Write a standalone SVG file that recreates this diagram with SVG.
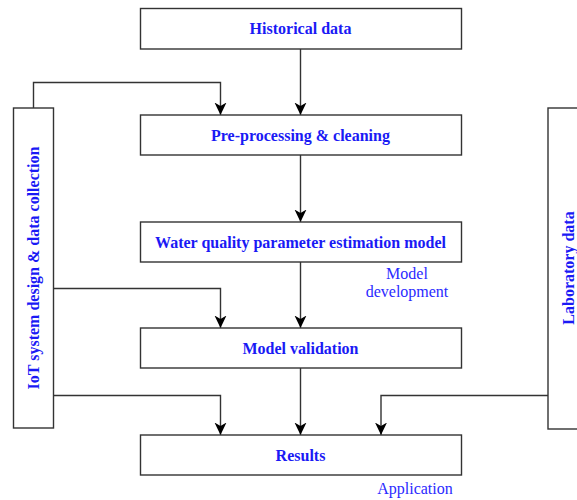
<svg xmlns="http://www.w3.org/2000/svg" width="577" height="500" viewBox="0 0 577 500">
<style>
.box{fill:#fff;stroke:#333;stroke-width:1.4}
.lbl{font-family:"Liberation Serif","Times New Roman",serif;font-weight:bold;font-size:16px;fill:#1a1af5;text-anchor:middle}
.note{font-family:"Liberation Serif","Times New Roman",serif;font-size:16px;fill:#2a2aff;text-anchor:middle}
.edge{fill:none;stroke:#333;stroke-width:1.4}
</style>
<defs>
<marker id="arr" viewBox="0 0 13 13" refX="12.5" refY="6.5" markerWidth="13" markerHeight="13" markerUnits="userSpaceOnUse" orient="auto">
<path d="M0,0.5 L12.5,6.5 L0,12.5 L3.5,6.5 Z" fill="#000"/>
</marker>
</defs>
<g id="connectors">
<path class="edge" d="M300.5,49 V115" marker-end="url(#arr)"/>
<path class="edge" d="M33.5,108 V82.5 H220.5 V115" marker-end="url(#arr)"/>
<path class="edge" d="M300.5,155 V222" marker-end="url(#arr)"/>
<path class="edge" d="M300.5,262 V328" marker-end="url(#arr)"/>
<path class="edge" d="M53.5,288.5 H220.5 V328" marker-end="url(#arr)"/>
<path class="edge" d="M300.5,368 V435" marker-end="url(#arr)"/>
<path class="edge" d="M53.5,395.5 H220.5 V435" marker-end="url(#arr)"/>
<path class="edge" d="M548,395.5 H381 V435" marker-end="url(#arr)"/>
</g>
<g id="historical">
<rect class="box" x="140.5" y="8.5" width="321" height="40.5"/>
<text class="lbl" x="300.5" y="34">Historical data</text>
</g>
<g id="preprocessing">
<rect class="box" x="140.5" y="115" width="321" height="40"/>
<text class="lbl" x="300.5" y="140.5">Pre-processing &amp; cleaning</text>
</g>
<g id="model">
<rect class="box" x="140.5" y="222" width="321" height="40"/>
<text class="lbl" x="300.5" y="247.5">Water quality parameter estimation model</text>
</g>
<g id="validation">
<rect class="box" x="140.5" y="328" width="321" height="40"/>
<text class="lbl" x="300.5" y="353.5">Model validation</text>
</g>
<g id="results">
<rect class="box" x="140.5" y="435" width="321" height="40"/>
<text class="lbl" x="300.5" y="460.5">Results</text>
</g>
<g id="iot">
<rect class="box" x="13.5" y="108" width="40" height="320"/>
<text class="lbl" transform="translate(39,268) rotate(-90)">IoT system design &amp; data collection</text>
</g>
<g id="laboratory">
<rect class="box" x="548" y="108" width="40" height="321"/>
<text class="lbl" transform="translate(574,268) rotate(-90)">Laboratory data</text>
</g>
<g id="notes">
<text class="note" x="407" y="279">Model</text>
<text class="note" x="407" y="297">development</text>
<text class="note" x="415" y="494">Application</text>
</g>
</svg>
